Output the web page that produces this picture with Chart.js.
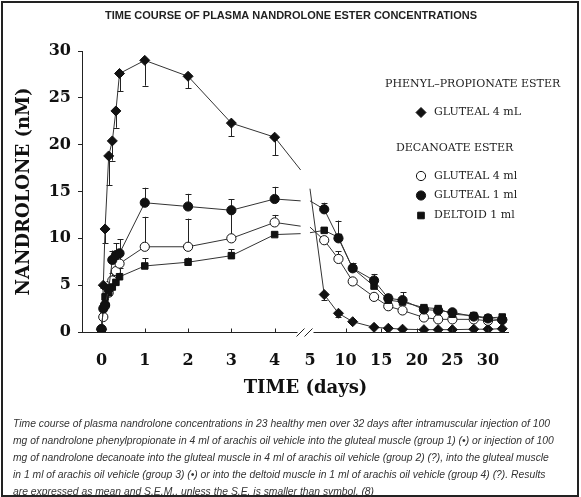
<!DOCTYPE html>
<html>
<head>
<meta charset="utf-8">
<script src="https://cdn.jsdelivr.net/npm/chart.js"></script>
<style>
  body { margin: 0; background: #fff; }
  #wrap { position: relative; width: 581px; height: 497px; }
  #chart { position: absolute; left: 0; top: 0; }
  #frame { position: absolute; left: 1px; top: 1px; width: 574px; height: 492px; border: 2px solid #222; pointer-events: none; }
  #caption { position: absolute; left: 13px; top: 415px; font: italic 10.35px "Liberation Sans", Arial, sans-serif; line-height: 17px; color: #333; white-space: nowrap; }
</style>
</head>
<body>
<div id="wrap">
  <canvas id="chart" width="581" height="410"></canvas>
  <div id="frame"></div>
  <div id="caption">
    Time course of plasma nandrolone concentrations in 23 healthy men over 32 days after intramuscular injection of 100<br>
    mg of nandrolone phenylpropionate in 4 ml of arachis oil vehicle into the gluteal muscle (group 1) (•) or injection of 100<br>
    mg of nandrolone decanoate into the gluteal muscle in 4 ml of arachis oil vehicle (group 2) (?), into the gluteal muscle<br>
    in 1 ml of arachis oil vehicle (group 3) (•) or into the deltoid muscle in 1 ml of arachis oil vehicle (group 4) (?). Results<br>
    are expressed as mean and S.E.M., unless the S.E. is smaller than symbol. (8)
  </div>
</div>
<script>
// sampling days: first 4 days (hours 0,1,2,4,6,8,10 then daily), then the later visits
const earlyDays = [0, 0.042, 0.083, 0.167, 0.25, 0.333, 0.417, 1, 2, 3, 4];
const lateDays = [7, 9, 11, 14, 16, 18, 21, 23, 25, 28, 30, 32];
const leftTicks = [0, 1, 2, 3, 4];
const rightTicks = [5, 10, 15, 20, 25, 30];
const yTicks = [0, 5, 10, 15, 20, 25, 30];

// where the lines stop/restart around the axis break
const breakDays = [4.6, 5];

// phenylpropionate, gluteal 4 mL
const ppEarly = [0.3, 5.0, 11.0, 18.8, 20.4, 23.6, 27.6, 29.0, 27.3, 22.3, 20.8];
const ppLate = [4.0, 2.0, 1.1, 0.5, 0.4, 0.3, 0.25, 0.25, 0.25, 0.3, 0.3, 0.35];
const ppEarlySem = [0, 0.3, 1.5, 3.1, 2.1, 1.8, 1.9, 2.7, 1.3, 1.4, 1.9];
const ppLateSem = [0.6, 0.4, 0, 0, 0, 0, 0, 0, 0, 0, 0, 0];
const ppBreak = [17.3, 15.3];

// decanoate, gluteal 4 ml
const dg4Early = [0.3, 1.6, 2.8, 4.2, 5.5, 6.5, 7.3, 9.1, 9.1, 10.0, 11.7];
const dg4Late = [9.8, 7.8, 5.4, 3.75, 2.75, 2.3, 1.55, 1.35, 1.35, 1.35, 1.2, 1.3];
const dg4EarlySem = [0, 0.6, 0.4, 0.7, 0.8, 1.0, 1.3, 3.2, 3.0, 3.2, 0.8];
const dg4LateSem = [0, 0.8, 0, 0, 0, 0, 0, 0, 0, 0, 0, 0];
const dg4Break = [11.3, 11.2];

// decanoate, gluteal 1 ml
const dg1Early = [0.3, 2.5, 2.9, 4.6, 7.7, 8.2, 8.4, 13.8, 13.4, 13.0, 14.2];
const dg1Late = [13.1, 10.0, 6.8, 5.5, 3.6, 3.4, 2.4, 2.3, 2.1, 1.65, 1.45, 1.3];
const dg1EarlySem = [0, 0.4, 0.5, 0.8, 1.0, 1.3, 1.5, 1.6, 1.35, 1.2, 1.3];
const dg1LateSem = [0.7, 1.9, 0.6, 0.7, 0.5, 0.85, 0, 0, 0, 0, 0, 0];
const dg1Break = [14.0, 14.0];

// decanoate, deltoid 1 ml
const dd1Early = [0.3, 2.5, 3.75, 4.2, 4.8, 5.3, 5.9, 7.05, 7.45, 8.15, 10.4];
const dd1Late = [10.85, 10.1, 6.8, 4.9, 3.4, 3.2, 2.6, 2.5, 1.9, 1.75, 1.5, 1.6];
const dd1EarlySem = [0, 0.3, 0.4, 0.5, 0.9, 0.8, 0.9, 0.8, 0.5, 0.7, 0];
const dd1LateSem = [0, 0, 0.3, 0.5, 0, 0, 0, 0, 0, 0, 0, 0];
const dd1Break = [10.5, 10.6];

const serifBold = (size) => ({ family: 'DejaVu Serif', weight: 'bold', size: size });
const ink = '#111';

const groups = [
  { label: 'GLUTEAL 1 ml', early: dg1Early, late: dg1Late, semE: dg1EarlySem, semL: dg1LateSem, brk: dg1Break,
    style: 'circle', radius: 4.6, fill: ink, dir: 1 },
  { label: 'DELTOID 1 ml', early: dd1Early, late: dd1Late, semE: dd1EarlySem, semL: dd1LateSem, brk: dd1Break,
    style: 'rect', radius: 4.6, fill: ink, dir: 1 },
  { label: 'GLUTEAL 4 ml', early: dg4Early, late: dg4Late, semE: dg4EarlySem, semL: dg4LateSem, brk: dg4Break,
    style: 'circle', radius: 4.6, fill: '#fff', dir: 1 },
  { label: 'GLUTEAL 4 mL', early: ppEarly, late: ppLate, semE: ppEarlySem, semL: ppLateSem, brk: ppBreak,
    style: 'rectRot', radius: 5, fill: ink, dir: -1 }
];

const datasets = [];
groups.forEach((g, gi) => {
  const base = {
    showLine: true, borderColor: '#333', borderWidth: 1, order: gi,
    pointStyle: g.style, pointRadius: g.radius, pointBackgroundColor: g.fill,
    pointBorderColor: ink, pointBorderWidth: 1, pointHoverRadius: g.radius
  };
  datasets.push(Object.assign({}, base, {
    label: g.label, xAxisID: 'xl', sem: g.semE, errDir: g.dir,
    data: earlyDays.map((d, i) => ({ x: d, y: g.early[i] }))
  }));
  datasets.push(Object.assign({}, base, {
    label: g.label, xAxisID: 'xr', sem: g.semL, errDir: g.dir,
    data: lateDays.map((d, i) => ({ x: d, y: g.late[i] }))
  }));
  // short line pieces running into / out of the axis break
  datasets.push(Object.assign({}, base, {
    label: g.label, xAxisID: 'xl', pointRadius: 0, order: 10,
    data: [{ x: earlyDays[earlyDays.length - 1], y: g.early[g.early.length - 1] }, { x: breakDays[0], y: g.brk[0] }]
  }));
  datasets.push(Object.assign({}, base, {
    label: g.label, xAxisID: 'xr', pointRadius: 0, order: 10,
    data: [{ x: breakDays[1], y: g.brk[1] }, { x: lateDays[0], y: g.late[0] }]
  }));
});

// error bars (one-sided: up for decanoate, down for phenylpropionate)
const errorBars = {
  id: 'errorBars',
  beforeDatasetsDraw(chart) {
    const ctx = chart.ctx;
    const y = chart.scales.y;
    ctx.save();
    ctx.strokeStyle = '#222';
    ctx.lineWidth = 1;
    chart.data.datasets.forEach((ds, i) => {
      if (!ds.sem) return;
      const meta = chart.getDatasetMeta(i);
      meta.data.forEach((pt, j) => {
        const s = ds.sem[j];
        if (!s) return;
        const tip = y.getPixelForValue(ds.data[j].y + ds.errDir * s);
        const px = Math.round(pt.x) + 0.5;
        ctx.beginPath();
        ctx.moveTo(px, pt.y);
        ctx.lineTo(px, tip);
        ctx.moveTo(px - 3, Math.round(tip) + 0.5);
        ctx.lineTo(px + 3, Math.round(tip) + 0.5);
        ctx.stroke();
      });
    });
    ctx.restore();
  }
};

// title, broken x axis line, inward ticks, axis title and the custom legend
const decorations = {
  id: 'decorations',
  afterDraw(chart) {
    const ctx = chart.ctx;
    const area = chart.chartArea;
    const xl = chart.scales.xl, xr = chart.scales.xr;
    const yb = Math.round(area.bottom) + 0.5;
    const cut = xl.right;
    ctx.save();

    ctx.fillStyle = '#222';
    ctx.font = 'bold 11px "Liberation Sans"';
    ctx.textAlign = 'center';
    ctx.textBaseline = 'middle';
    ctx.fillText('TIME COURSE OF PLASMA NANDROLONE ESTER CONCENTRATIONS', 291, 16);

    ctx.strokeStyle = '#222';
    ctx.lineWidth = 1;
    ctx.beginPath();
    ctx.moveTo(area.left, yb); ctx.lineTo(cut - 4, yb);
    ctx.moveTo(cut + 12, yb); ctx.lineTo(area.right, yb);
    // the two slashes of the break
    ctx.moveTo(cut - 5, yb + 4); ctx.lineTo(cut + 3, yb - 4);
    ctx.moveTo(cut + 3, yb + 4); ctx.lineTo(cut + 11, yb - 4);
    leftTicks.slice(1).forEach(v => {
      const x = Math.round(xl.getPixelForValue(v)) + 0.5;
      ctx.moveTo(x, yb); ctx.lineTo(x, yb - 4);
    });
    rightTicks.slice(1).forEach(v => {
      const x = Math.round(xr.getPixelForValue(v)) + 0.5;
      ctx.moveTo(x, yb); ctx.lineTo(x, yb - 4);
    });
    ctx.stroke();

    ctx.fillStyle = '#111';
    ctx.font = 'bold 18px "DejaVu Serif"';
    ctx.fillText('TIME (days)', cut + 4, area.bottom + 56);

    // legend
    ctx.font = '11px "DejaVu Serif"';
    ctx.fillStyle = '#222';
    ctx.textAlign = 'left';
    ctx.fillText('PHENYL\u2013PROPIONATE ESTER', 385, 84);
    ctx.fillText('DECANOATE ESTER', 396, 148);
    const rows = [
      { g: groups[3], y: 112.5 },
      { g: groups[2], y: 176 },
      { g: groups[0], y: 195.5 },
      { g: groups[1], y: 215.5 }
    ];
    rows.forEach(r => {
      const mx = 421, my = r.y;
      ctx.beginPath();
      if (r.g.style === 'circle') {
        ctx.arc(mx, my, 4.6, 0, Math.PI * 2);
      } else if (r.g.style === 'rect') {
        ctx.rect(mx - 3.3, my - 3.3, 6.6, 6.6);
      } else {
        ctx.moveTo(mx, my - 5); ctx.lineTo(mx + 5, my); ctx.lineTo(mx, my + 5); ctx.lineTo(mx - 5, my); ctx.closePath();
      }
      ctx.fillStyle = r.g.fill;
      ctx.fill();
      ctx.strokeStyle = ink;
      ctx.stroke();
      ctx.fillStyle = '#222';
      ctx.fillText(r.g.label, 434, my);
    });
    ctx.restore();
  }
};

const tickFont = serifBold(16);
new Chart(document.getElementById('chart'), {
  type: 'scatter',
  data: { datasets: datasets },
  options: {
    responsive: false,
    animation: false,
    events: [],
    layout: { padding: { left: 0, right: 72, top: 51, bottom: 0 } },
    plugins: {
      legend: { display: false },
      tooltip: { enabled: false },
      title: { display: false }
    },
    scales: {
      xl: {
        type: 'linear', position: 'bottom', stack: 'time', stackWeight: 219.5,
        min: -0.45, max: 4.62,
        afterBuildTicks: s => { s.ticks = leftTicks.map(v => ({ value: v })); },
        afterFit: s => { s.height = 78; },
        grid: { display: false }, border: { display: false },
        ticks: { font: tickFont, color: '#111', padding: 11, maxRotation: 0, autoSkip: false }
      },
      xr: {
        type: 'linear', position: 'bottom', stack: 'time', stackWeight: 207.5,
        min: 3.81, max: 32.95,
        afterBuildTicks: s => { s.ticks = rightTicks.map(v => ({ value: v })); },
        afterFit: s => { s.height = 78; },
        grid: { display: false }, border: { display: false },
        ticks: { font: tickFont, color: '#111', padding: 11, maxRotation: 0, autoSkip: false }
      },
      y: {
        type: 'linear', position: 'left', min: 0, max: 30,
        afterBuildTicks: s => { s.ticks = yTicks.map(v => ({ value: v })); },
        afterFit: s => { s.width = 82; },
        grid: { drawOnChartArea: false, drawTicks: true, tickLength: 4, color: '#222' },
        border: { display: true, color: '#222', width: 1 },
        ticks: { font: tickFont, color: '#111', padding: 7 },
        title: { display: true, text: 'NANDROLONE (nM)', color: '#111', font: serifBold(18), padding: { top: 14 } }
      }
    }
  },
  plugins: [errorBars, decorations]
});
</script>
</body>
</html>
